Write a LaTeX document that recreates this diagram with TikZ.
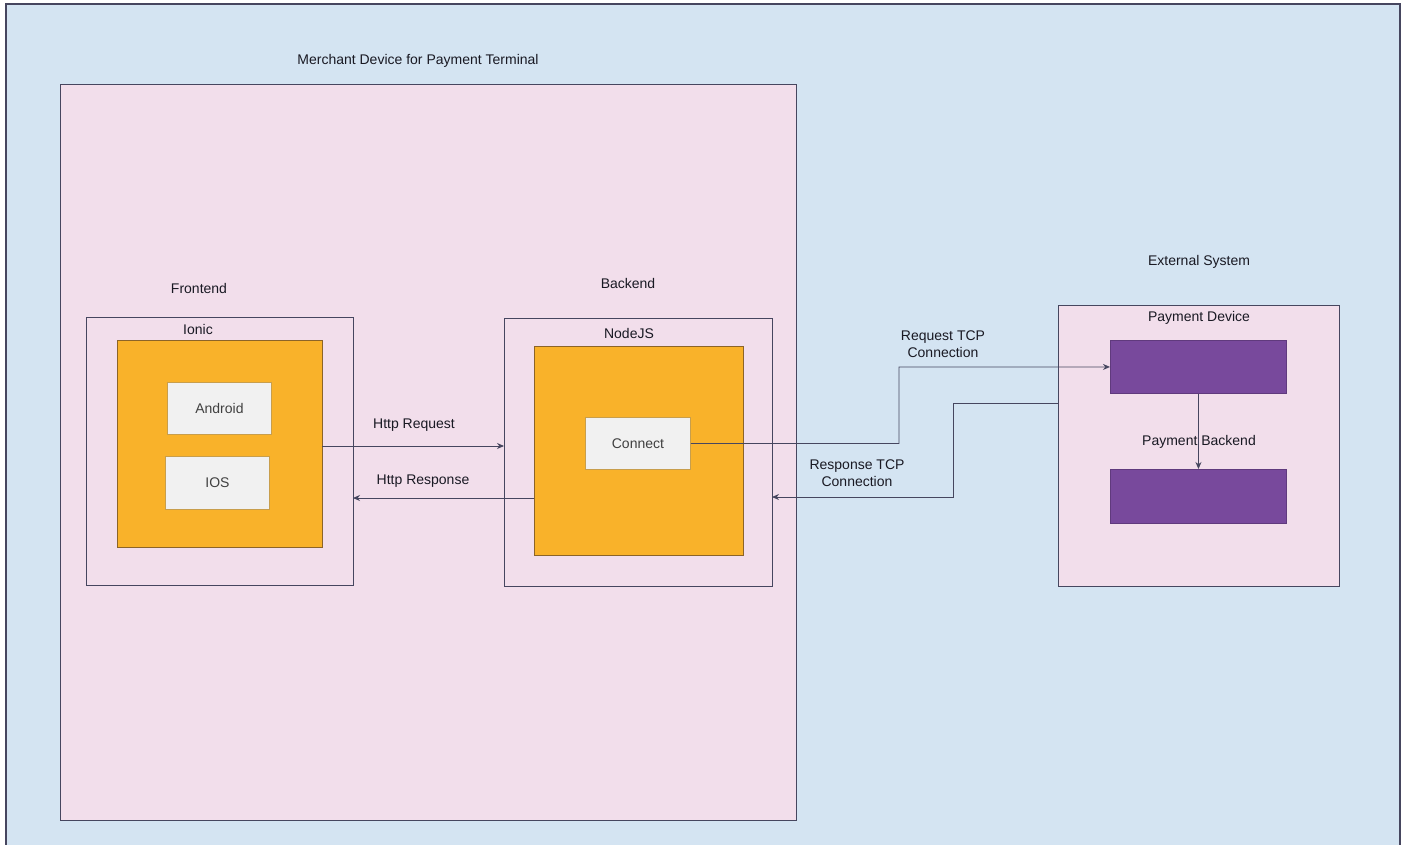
\documentclass[tikz,border=0pt]{standalone}
\usepackage{fontspec}
\setmainfont{Liberation Sans}
\usetikzlibrary{arrows.meta}
\definecolor{bgblue}{RGB}{212,228,242}
\definecolor{pinkbg}{RGB}{242,222,235}
\definecolor{orangebox}{RGB}{249,178,42}
\definecolor{orangeline}{RGB}{140,100,40}
\definecolor{purplebox}{RGB}{120,73,156}
\definecolor{graybox}{RGB}{241,241,241}
\definecolor{strokec}{RGB}{70,70,95}
\definecolor{textc}{RGB}{25,25,35}
\tikzset{
  every node/.style={font=\fontsize{14}{17}\selectfont, text=textc},
  frame/.style={draw=strokec, line width=0.9pt, anchor=north west, inner sep=0pt},
  pinkframe/.style={frame, fill=pinkbg},
  orangeframe/.style={frame, fill=orangebox, draw=orangeline},
  grayframe/.style={frame, fill=graybox, draw=orangebox!60!gray, text=black!75},
  purpleframe/.style={frame, fill=purplebox, draw=purplebox!80!black},
  conn/.style={draw=strokec, line width=0.9pt, -{Stealth[length=7pt,width=6pt]}},
  lbl/.style={align=center, inner sep=0pt}
}
\begin{document}
\begin{tikzpicture}[x=1pt,y=-1pt]
\path[use as bounding box] (0,0) rectangle (1404,845);
\clip (0,0) rectangle (1404,845);
\fill[white] (0,0) rectangle (1404,845);
% outer background
\draw[fill=bgblue, draw=strokec, line width=1.2pt] (6,4) rectangle (1400,870);
% merchant device
\node[pinkframe, minimum width=736, minimum height=736] (merchant) at (60,84) {};
\node[lbl] (mtitle) at (418,61) {Merchant Device for Payment Terminal};
% frontend
\node[lbl] (fetitle) at (199,288) {Frontend};
\node[pinkframe, minimum width=267, minimum height=268] (fe) at (86,317) {};
\node[lbl] (ionict) at (198,329) {Ionic};
\node[orangeframe, minimum width=205, minimum height=207] (ionic) at (117,340) {};
\node[grayframe, minimum width=104, minimum height=52] (android) at (167,382) {};
\node[lbl, text=black!75] at (android.center) {Android};
\node[grayframe, minimum width=104, minimum height=53] (ios) at (165,456) {};
\node[lbl, text=black!75] at (ios.center) {IOS};
% backend
\node[lbl] (betitle) at (628,283) {Backend};
\node[pinkframe, minimum width=268, minimum height=268] (be) at (504,318) {};
\node[lbl] (nodet) at (629,333) {NodeJS};
\node[orangeframe, minimum width=209, minimum height=209] (nodejs) at (534,346) {};
\node[grayframe, minimum width=105, minimum height=52] (connect) at (585,417) {};
\node[lbl, text=black!75] at (connect.center) {Connect};
% external
\node[lbl] (extitle) at (1199,262) {External System};
\node[pinkframe, minimum width=281, minimum height=281] (ext) at (1058,305) {};
\node[lbl] (pdt) at (1199,318) {Payment Device};
\node[purpleframe, minimum width=176, minimum height=53] (pd) at (1110,340) {};
\node[purpleframe, minimum width=176, minimum height=54] (pb) at (1110,469) {};
% connectors
\coordinate (reqS) at (322,446);
\coordinate (reqE) at (504,446);
\draw[conn] (reqS) -- (reqE);
\node[lbl] (reqL) at (414,425) {Http Request};
\coordinate (resS) at (534,498);
\coordinate (resE) at (353,498);
\draw[conn] (resS) -- (resE);
\node[lbl] (resL) at (423,481) {Http Response};
\draw[conn] (connect.east) -| (899,367) -- (pd.west);
\node[lbl] (tcpreq) at (943,344) {Request TCP\\Connection};
\coordinate (extL) at (1058,403);
\coordinate (beR) at (772,497);
\draw[conn] (extL) -- (953,403) |- (beR);
\node[lbl] (tcpres) at (857,473) {Response TCP\\Connection};
\draw[conn] (pd.south) -- (pb.north);
\node[lbl] (pbl) at (1199,442) {Payment Backend};
\end{tikzpicture}
\end{document}
